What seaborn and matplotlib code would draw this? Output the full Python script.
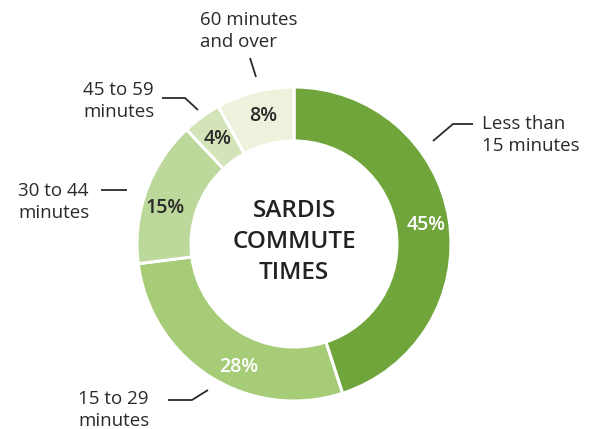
import matplotlib
matplotlib.use("Agg")
import matplotlib.pyplot as plt
import seaborn as sns
import numpy as np

# Commute time shares for Sardis (percent), clockwise from 12 o'clock
categories = ["Less than\n15 minutes", "15 to 29\nminutes", "30 to 44\nminutes",
              "45 to 59\nminutes", "60 minutes\nand over"]
shares = [45, 28, 15, 4, 8]
pct_labels = ["45%", "28%", "15%", "4%", "8%"]
colors = ["#6fa53b", "#a6cc78", "#bcd89a", "#d3e4b8", "#eef2dc"]
pct_text_colors = ["white", "white", "#2a2a2a", "#2a2a2a", "#2a2a2a"]

sns.set_theme(style="white")
plt.rcParams["font.family"] = ["Open Sans", "DejaVu Sans"]

W, H = 594, 429
fig = plt.figure(figsize=(W / 100, H / 100), dpi=100)
ax = fig.add_axes([0, 0, 1, 1])

def py(y):
    # convert top-down pixel row to axis y
    return H - y

cx, cy = 294, py(244)
R_out, ring = 157, 54

wedges, _ = ax.pie(shares, colors=colors, startangle=90, counterclock=False,
                   center=(cx, cy), radius=R_out,
                   wedgeprops=dict(width=ring, edgecolor="white", linewidth=2.2))

ax.set_xlim(0, W)
ax.set_ylim(0, H)
ax.set_aspect("equal")
ax.axis("off")

# percentage labels near the middle of the ring
r_mid = R_out - ring / 2
r_shift = [3, 5, 4, 0, 2]
a_shift = [1, -8, -4, 0, 1]
cum = np.cumsum([0] + shares[:-1])
for s, c0, lab, tc, dr, da in zip(shares, cum, pct_labels, pct_text_colors,
                                  r_shift, a_shift):
    ang = np.deg2rad(90 - (c0 + s / 2) / sum(shares) * 360 - da)
    r = r_mid + dr
    ax.text(cx + r * np.cos(ang), cy + r * np.sin(ang), lab,
            ha="center", va="center", fontsize=14, fontweight="semibold",
            color=tc)

# centre title
ax.text(cx, py(242), "SARDIS\nCOMMUTE\nTIMES", ha="center", va="center",
        fontsize=17.5, fontweight="semibold", color="#222222", linespacing=1.38)

# category labels with leader lines
label_pos = [(482, 135), (78, 410), (18, 202), (83, 101), (200, 31)]
leaders = [
    [(473, 124), (453, 124), (433, 141)],
    [(168, 400), (192, 400), (208, 390)],
    [(101, 190), (127, 190)],
    [(162, 98), (185, 98), (198, 110)],
    [(250, 58), (256, 77)],
]
for cat, (lx, ly), pts in zip(categories, label_pos, leaders):
    ax.text(lx, py(ly), cat, ha="left", va="center", fontsize=13.5,
            color="#2a2a2a", linespacing=1.3)
    xs = [p[0] for p in pts]
    ys = [py(p[1]) for p in pts]
    ax.plot(xs, ys, color="#2a2a2a", linewidth=1.3, solid_capstyle="butt")

fig.savefig("out.png", dpi=100, facecolor="white")
